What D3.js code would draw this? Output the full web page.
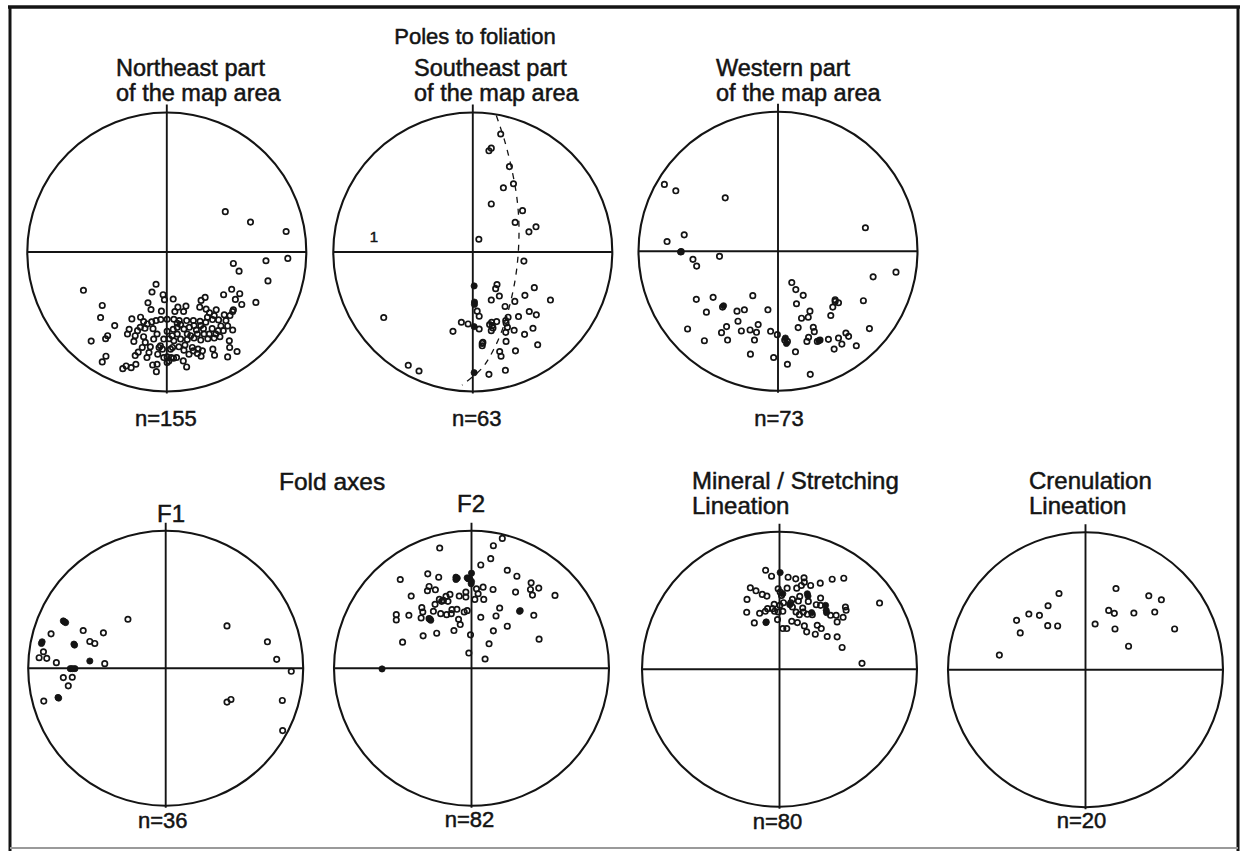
<!DOCTYPE html>
<html>
<head>
<meta charset="utf-8">
<script src="https://cdn.jsdelivr.net/npm/d3@7"></script>
<style>
  html, body { margin: 0; padding: 0; background: #fff; }
  svg { display: block; }
</style>
</head>
<body>
<svg id="chart" width="1244" height="851"></svg>
<script>
// Equal-area (lower hemisphere) projected coordinates, x = east, y = north,
// in projection units where the primitive circle has radius 415.

// Poles to foliation, northeast part of the map area (n = 155)
const nePoles = [
  [174,120],[249,89],[355,61],
  [360,-19],[295,-26],[198,-34],[215,-57],[301,-86],
  [265,-150],[193,-111],[217,-124],[169,-127],[204,-141],[223,-156],
  [-248,-114],[-192,-159],[-197,-195],[-155,-219],[-225,-265],[-182,-258],[-176,-249],[-181,-310],[-192,-327],[-131,-347],[-121,-339],[-106,-344],[-92,-334],
  [-32,-96],[-44,-119],[-11,-127],[-7,-142],[19,-140],[-56,-151],[-47,-171],[-16,-176],[33,-164],[57,-161],[24,-177],[50,-177],[102,-144],[114,-135],[98,-164],[117,-170],[147,-172],[127,-181],[171,-187],
  [-104,-199],[-78,-194],[-69,-207],[-58,-214],[-45,-208],[-32,-204],[-18,-201],[1,-200],[21,-200],[37,-204],[59,-204],[79,-204],[99,-206],[116,-209],[136,-201],[154,-202],[176,-204],[188,-189],[196,-177],[198,-172],
  [-112,-230],[-87,-234],[-65,-227],[-41,-228],[-29,-244],[1,-236],[19,-230],[31,-224],[51,-229],[67,-224],[88,-232],[109,-228],[135,-228],[153,-234],[168,-234],[196,-232],
  [-117,-244],[-69,-252],[-98,-266],[-64,-269],[-49,-282],[-19,-279],[7,-258],[21,-264],[41,-259],[61,-260],[81,-256],[101,-262],[122,-258],[141,-256],[158,-252],[186,-264],
  [-73,-284],[-85,-298],[-53,-299],[-23,-284],[-13,-289],[17,-284],[36,-282],[54,-277],[76,-284],[93,-289],[106,-294],[137,-289],[187,-284],[209,-296],[181,-312],[142,-307],[102,-310],[79,-294],
  [-94,-308],[-59,-314],[-27,-304],[1,-312],[6,-324],[20,-316],[29,-314],[49,-324],[59,-342],[-29,-334],[-42,-336],[-31,-356],[1,-329],[13,-314],
  [31,-212],[41,-216],[61,-244],[71,-249],[91,-244],[111,-244],[126,-244],[146,-244],[161,-220],[181,-220],[51,-292],[66,-304],[91,-302],[31,-244],[16,-249],[-9,-259],[-39,-259],[-79,-224],[-94,-249],[81,-219],[101,-219],[121,-194],[141,-189],[11,-289],[-9,-314]
];
const nePolesStacked = [];

// Poles to foliation, southeast part of the map area (n = 63)
const sePoles = [
  [83,351],[48,301],[55,309],[109,254],[121,203],[91,191],[55,143],[148,123],[126,88],[167,60],[188,75],[18,38],[152,-27],
  [72,-97],[68,-109],[183,-106],[55,-143],[79,-131],[125,-147],[155,-129],[231,-143],[96,-162],[168,-177],[189,-187],[136,-192],[105,-194],[99,-211],[56,-209],[71,-207],[50,-216],[60,-226],[55,-234],[103,-224],[123,-233],[179,-227],[154,-245],[98,-239],[99,-266],[193,-276],[127,-294],[30,-269],[28,-279],[80,-296],[84,-310],[48,-364],[97,-352],
  [13,-176],[19,-191],[19,-229],
  [-265,-195],[-192,-337],[-160,-354],[-59,-236],[-34,-209],[-14,-214],
  [58,-219],[28,-272],[98,-204]
];
const sePolesStacked = [[4,-101],[5,-149],[5,-156],[4,-222],[4,-359]];
// Best-fit girdle through the southeast poles
const seGirdle = [[70,406],[95,330],[115,250],[130,170],[137,90],[136,10],[128,-70],[112,-150],[90,-225],[62,-290],[28,-345],[-32,-396]];
const seNotes = [{label: "1", at: [-294, 46]}];

// Poles to foliation, western part of the map area (n = 73)
const westPoles = [
  [-338,199],[-304,180],[-157,159],[260,70],[-279,49],[-330,29],[-253,-24],[-242,-44],[-174,-15],
  [283,-76],[351,-62],[41,-93],[53,-114],[75,-131],[55,-156],[-75,-132],[-193,-137],[-243,-143],
  [-213,-181],[-122,-178],[-100,-174],[-30,-174],[170,-144],[180,-153],[163,-166],[95,-178],[90,-196],[70,-199],
  [157,-191],[254,-147],[-119,-208],[-153,-224],[-59,-218],[-269,-231],[-168,-242],[-109,-237],[-83,-234],[-64,-241],
  [-70,-264],[-150,-264],[-219,-266],[-22,-238],[-2,-248],[60,-227],[105,-226],[108,-239],
  [91,-256],[86,-268],[117,-268],[150,-262],[180,-258],[202,-243],[210,-253],[190,-276],[167,-291],
  [233,-281],[272,-230],[52,-299],[-13,-316],[-82,-306],[28,-336],[96,-366],
  [20,-264],[28,-268],[125,-264],[-165,-166],[-288,-1],[170,-149]
];
const westPolesStacked = [[-290,-2],[-162,-162],[22,-258],[25,-274],[122,-266]];

// F1 fold axes (n = 36)
const f1Axes = [
  [-114,148],[-346,104],[-249,114],[-188,107],[-229,81],[-214,75],[-369,50],[-382,32],[-359,30],[-330,17],[-184,14],[-309,-28],[-282,-27],[-294,-53],[-368,-99],
  [185,128],[307,80],[335,27],[379,-9],[185,-102],[197,-94],[352,-97],[353,-188]
];
const f1AxesStacked = [[-305,140],[-309,143],[-373,80],[-277,73],[-229,22],[-288,-1],[-274,-1],[-325,-88],[-302,138],[-375,75],[-275,70],[-282,-1],[-323,-90]];

// F2 fold axes (n = 82)
const f2Axes = [
  [93,392],[66,370],[-96,363],[58,331],[28,312],[108,296],[137,278],[-215,268],[-132,285],[-99,275],
  [180,258],[203,242],[178,238],[184,221],[252,220],[133,230],[65,238],[35,245],[15,240],[20,225],
  [10,208],[37,208],[-17,230],[-17,215],[-37,218],[-65,223],[-77,217],[-90,202],[-97,208],[-71,202],
  [-109,237],[-128,247],[-133,234],[-182,218],[-110,193],[-115,172],[-150,183],[-147,170],[-128,150],[-152,152],
  [-93,165],[-75,162],[-61,165],[-59,177],[-44,178],[-22,170],[-13,174],[-227,162],[-227,146],[-189,160],
  [-39,148],[-34,132],[28,154],[74,158],[85,182],[188,160],[108,127],[66,113],[-53,114],[-105,106],
  [-146,98],[-208,79],[-3,101],[53,74],[204,88],[-8,46],[41,28],[-125,148],[-85,205]
];
const f2AxesStacked = [[-47,275],[-47,268],[-13,273],[0,287],[-5,270],[-1,255],[-123,145],[145,172],[-270,-2],[-10,270],[-43,272],[147,174],[0,262]];

// Mineral / stretching lineation (n = 80)
const mineralLineation = [
  [-42,299],[-24,281],[26,278],[49,273],[74,276],[75,263],[94,253],[123,260],[159,272],[194,275],
  [-88,246],[-71,237],[-52,226],[-38,221],[-98,211],[-4,243],[2,233],[23,245],[52,245],[66,253],
  [87,205],[39,211],[57,206],[124,215],[199,188],[201,178],[171,163],[174,143],[192,157],[154,163],
  [124,193],[111,195],[84,166],[72,173],[60,165],[50,173],[39,188],[12,201],[1,193],[-16,196],
  [-21,183],[-15,175],[-36,183],[-43,175],[-60,169],[-99,172],[-76,140],[-6,150],[37,145],[54,141],
  [75,131],[82,113],[108,106],[114,133],[126,123],[144,99],[174,98],[189,66],[249,18],[302,200],
  [10,123],[22,123],[-4,173],[10,175],[61,220],[99,165],[34,201],[6,223],[70,185]
];
const mineralLineationStacked = [[2,292],[10,228],[84,228],[139,193],[142,171],[97,171],[31,195],[-41,141],[86,221],[141,178],[-40,143]];

// Crenulation lineation (n = 20)
const crenulationLineation = [
  [-80,230],[-113,193],[-171,168],[-139,164],[-208,149],[-197,111],[-114,133],[-84,132],[-260,44],[92,245],
  [70,179],[87,170],[29,138],[89,123],[146,171],[191,223],[229,211],[209,174],[269,123],[130,71]
];

// Group headings
const groupHeadings = [
  {text: "Poles to foliation", x: 475, y: 44, size: 22, anchor: "middle"},
  {text: "Fold axes", x: 279, y: 490, size: 24.5, anchor: "start"}
];

const PRIMITIVE = 415;   // primitive circle radius, projection units

const nets = [
  {open: nePoles, solid: nePolesStacked, n: "n=155", cx: 166.8, cy: 252.0, r: 139.5,
   title: ["Northeast part", "of the map area"], tx: 116, ty: 76, tSize: 23.5, lineGap: 24.5, tAnchor: "start", ny: 426, nShift: -1},
  {open: sePoles, solid: sePolesStacked, n: "n=63", cx: 472.8, cy: 252.0, r: 139.5,
   title: ["Southeast part", "of the map area"], tx: 414, ty: 76, tSize: 23.5, lineGap: 24.5, tAnchor: "start", ny: 426, nShift: 4,
   girdle: seGirdle, notes: seNotes},
  {open: westPoles, solid: westPolesStacked, n: "n=73", cx: 778.0, cy: 251.3, r: 139.5,
   title: ["Western part", "of the map area"], tx: 716, ty: 76, tSize: 23.5, lineGap: 24.5, tAnchor: "start", ny: 426, nShift: 1},
  {open: f1Axes, solid: f1AxesStacked, n: "n=36", cx: 165.7, cy: 668.3, r: 137.5,
   title: ["F1"], tx: 171, ty: 522, tSize: 24, lineGap: 0, tAnchor: "middle", ny: 828, nShift: -3},
  {open: f2Axes, solid: f2AxesStacked, n: "n=82", cx: 471.5, cy: 668.3, r: 137.5,
   title: ["F2"], tx: 471, ty: 512, tSize: 24, lineGap: 0, tAnchor: "middle", ny: 827, nShift: -2},
  {open: mineralLineation, solid: mineralLineationStacked, n: "n=80", cx: 779.5, cy: 669.3, r: 137.5,
   title: ["Mineral / Stretching", "Lineation"], tx: 692, ty: 489, tSize: 24, lineGap: 25, tAnchor: "start", ny: 829, nShift: -2},
  {open: crenulationLineation, solid: [], n: "n=20", cx: 1085.5, cy: 669.7, r: 137.5,
   title: ["Crenulation", "Lineation"], tx: 1029, ty: 489, tSize: 24, lineGap: 25, tAnchor: "start", ny: 828, nShift: -4}
];

const INK = "#141414";
const FONT = "'Liberation Sans', Arial, Helvetica, sans-serif";
const svg = d3.select("#chart");

// Frame around the figure
const frame = svg.append("g").attr("fill", "none");
frame.append("line").attr("x1", 8).attr("x2", 1240).attr("y1", 7).attr("y2", 7)
  .attr("stroke", INK).attr("stroke-width", 3.5);
frame.append("line").attr("x1", 10).attr("x2", 10).attr("y1", 6).attr("y2", 851)
  .attr("stroke", INK).attr("stroke-width", 3);
frame.append("line").attr("x1", 1238).attr("x2", 1238).attr("y1", 6).attr("y2", 851)
  .attr("stroke", INK).attr("stroke-width", 3);
frame.append("line").attr("x1", 10).attr("x2", 1238).attr("y1", 848).attr("y2", 848)
  .attr("stroke", "#9a9a9a").attr("stroke-width", 2);

function label(g, text, x, y, size, anchor) {
  return g.append("text")
    .attr("x", x).attr("y", y)
    .attr("text-anchor", anchor)
    .attr("font-family", FONT)
    .attr("font-size", size)
    .attr("fill", INK)
    .attr("stroke", INK).attr("stroke-width", 0.5)
    .text(text);
}

groupHeadings.forEach(h => label(svg, h.text, h.x, h.y, h.size, h.anchor));

nets.forEach(net => {
  const x = d3.scaleLinear().domain([-PRIMITIVE, PRIMITIVE]).range([net.cx - net.r, net.cx + net.r]);
  const y = d3.scaleLinear().domain([-PRIMITIVE, PRIMITIVE]).range([net.cy + net.r, net.cy - net.r]);
  const g = svg.append("g");
  const rPix = x(PRIMITIVE) - x(0);

  // primitive circle and N-S / E-W axes
  g.append("circle").attr("cx", x(0)).attr("cy", y(0)).attr("r", rPix)
    .attr("fill", "none").attr("stroke", INK).attr("stroke-width", 2.1);
  g.append("line").attr("x1", x(-PRIMITIVE)).attr("x2", x(PRIMITIVE)).attr("y1", y(0)).attr("y2", y(0))
    .attr("stroke", INK).attr("stroke-width", 1.9);
  g.append("line").attr("x1", x(0)).attr("x2", x(0)).attr("y1", y(PRIMITIVE) - 8).attr("y2", y(-PRIMITIVE) + 2)
    .attr("stroke", INK).attr("stroke-width", 1.9);

  if (net.girdle) {
    g.append("path")
      .datum(net.girdle)
      .attr("d", d3.line().x(d => x(d[0])).y(d => y(d[1])).curve(d3.curveCatmullRom))
      .attr("fill", "none").attr("stroke", INK).attr("stroke-width", 1.3)
      .attr("stroke-dasharray", "6,6");
  }

  g.selectAll("circle.pt").data(net.open).join("circle")
    .attr("class", "pt")
    .attr("cx", d => x(d[0])).attr("cy", d => y(d[1])).attr("r", 2.7)
    .attr("fill", "none").attr("stroke", INK).attr("stroke-width", 1.7);

  g.selectAll("circle.solid").data(net.solid).join("circle")
    .attr("class", "solid")
    .attr("cx", d => x(d[0])).attr("cy", d => y(d[1])).attr("r", 3.1)
    .attr("fill", INK).attr("stroke", INK).attr("stroke-width", 0.8);

  (net.notes || []).forEach(nt => label(g, nt.label, x(nt.at[0]), y(nt.at[1]) + 5, 15, "middle"));

  net.title.forEach((line, i) => label(g, line, net.tx, net.ty + i * net.lineGap, net.tSize, net.tAnchor));
  label(g, net.n, x(0) + net.nShift, net.ny, 22, "middle");
});
</script>
</body>
</html>
